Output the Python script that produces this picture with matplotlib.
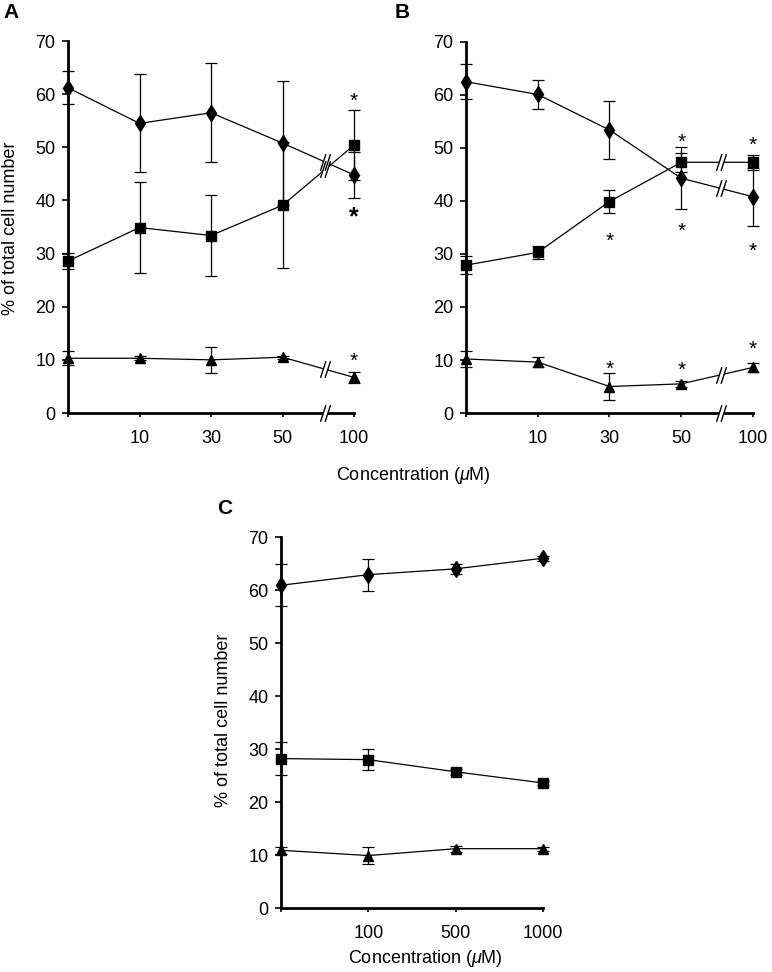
import numpy as np
import matplotlib.pyplot as plt
from matplotlib.path import Path

plt.rcParams['font.family'] = ['Liberation Sans', 'DejaVu Sans']
plt.rcParams['mathtext.fontset'] = 'custom'
plt.rcParams['mathtext.it'] = 'Liberation Sans:italic'

# ---- data ----
ab_labels = ['', '10', '30', '50', '100']
c_labels = ['', '100', '500', '1000']

a_diamond = [61.2, 54.5, 56.5, 50.8, 44.8]
a_diamond_err = [3.1, 9.2, 9.3, 11.6, 4.3]
a_square = [28.6, 34.9, 33.4, 39.1, 50.4]
a_square_err = [1.5, 8.5, 7.6, 11.9, 6.6]
a_triangle = [10.3, 10.3, 10.0, 10.5, 6.7]
a_triangle_err = [1.3, 0.4, 2.4, 0.3, 1.0]
a_stars = [(4, 59.8, False), (4, 38.2, True), (4, 11.0, False)]

b_diamond = [62.5, 60.1, 53.4, 44.3, 40.8]
b_diamond_err = [3.3, 2.7, 5.4, 5.9, 5.5]
b_square = [27.9, 30.3, 39.9, 47.3, 47.3]
b_square_err = [1.7, 1.2, 2.1, 1.8, 1.4]
b_triangle = [10.2, 9.6, 5.0, 5.5, 8.6]
b_triangle_err = [1.5, 0.9, 2.6, 0.5, 0.8]
b_stars = [(2, 33.7, False), (2, 9.4, False),
           (3, 52.3, False), (3, 35.6, False), (3, 9.2, False),
           (4, 51.7, False), (4, 31.7, False), (4, 13.2, False)]

c_diamond = [60.9, 62.9, 64.0, 66.0]
c_diamond_err = [4.0, 3.0, 1.0, 0.5]
c_square = [28.2, 28.0, 25.7, 23.6]
c_square_err = [3.1, 2.0, 0.6, 0.4]
c_triangle = [10.9, 9.9, 11.2, 11.2]
c_triangle_err = [0.7, 1.6, 0.6, 0.4]

FS = 13
XLABEL = r'Concentration ($\mu$M)'
YLABEL = '% of total cell number'

# "//" break mark
slash = Path([(-0.6, -1), (0.05, 1), (-0.05, -1), (0.6, 1)],
             [Path.MOVETO, Path.LINETO, Path.MOVETO, Path.LINETO])
gap = Path([(-0.45, -1), (0.1, -1), (0.45, 1), (-0.1, 1), (-0.45, -1)],
           [Path.MOVETO, Path.LINETO, Path.LINETO, Path.LINETO, Path.CLOSEPOLY])


def break_mark(ax, x, y):
    ax.plot(x, y, marker=gap, ms=12, mfc='white', mec='white', mew=0.5,
            ls='none', clip_on=False, zorder=6)
    ax.plot(x, y, marker=slash, ms=12, mfc='none', mec='black', mew=1.0,
            ls='none', clip_on=False, zorder=7)


def panel(ax, labels, series, stars=(), brk=None):
    x = np.arange(len(labels))
    for vals, errs, mk, ms in series:
        ax.errorbar(x, vals, yerr=errs, fmt='-', marker=mk, ms=ms, color='black',
                    lw=0.9, elinewidth=0.9, capsize=4, capthick=0.9,
                    clip_on=False, zorder=3)
        if brk is not None:
            yb = np.interp(brk, x, vals)
            break_mark(ax, brk, yb)
    if brk is not None:
        break_mark(ax, brk, 0)
    for sx, sy, bold in stars:
        size = 18 if bold else 15
        ax.annotate('*', (sx, sy), xytext=(0, -0.58 * size), textcoords='offset points',
                    ha='center', va='baseline', fontsize=size,
                    fontweight='bold' if bold else 'normal', annotation_clip=False)
    ax.set_xlim(0, len(labels) - 1)
    ax.set_ylim(0, 70)
    ax.set_xticks(x)
    ax.set_xticklabels(labels)
    ax.set_yticks(range(0, 71, 10))
    for s in ['top', 'right']:
        ax.spines[s].set_visible(False)
    for s in ['left', 'bottom']:
        ax.spines[s].set_linewidth(2)
    ax.tick_params(axis='y', length=4, width=1.2, pad=5, labelsize=FS)
    ax.tick_params(axis='x', length=3, width=1.2, pad=9, labelsize=FS)


fig = plt.figure(figsize=(7.72, 9.72), dpi=100)
ax_a = fig.add_axes([0.0881, 0.5751, 0.3705, 0.3827])
ax_b = fig.add_axes([0.6036, 0.5751, 0.3718, 0.3817])
ax_c = fig.add_axes([0.3640, 0.0658, 0.3394, 0.3817])

panel(ax_a, ab_labels,
      [(a_diamond, a_diamond_err, 'd', 8.5),
       (a_square, a_square_err, 's', 6.5),
       (a_triangle, a_triangle_err, '^', 7.5)],
      stars=a_stars, brk=3.6)
panel(ax_b, ab_labels,
      [(b_diamond, b_diamond_err, 'd', 8.5),
       (b_square, b_square_err, 's', 6.5),
       (b_triangle, b_triangle_err, '^', 7.5)],
      stars=b_stars, brk=3.55)
panel(ax_c, c_labels,
      [(c_diamond, c_diamond_err, 'd', 8.5),
       (c_square, c_square_err, 's', 6.5),
       (c_triangle, c_triangle_err, '^', 7.5)])

fig.text(11 / 772, 1 - 228 / 972, YLABEL, fontsize=FS, rotation=90, ha='center', va='center')
fig.text(224 / 772, 1 - 720 / 972, YLABEL, fontsize=FS, rotation=90, ha='center', va='center')
fig.text(413 / 772, 1 - 475 / 972, XLABEL, fontsize=FS, ha='center', va='center')
fig.text(425 / 772, 1 - 958 / 972, XLABEL, fontsize=FS, ha='center', va='center')

fig.text(3 / 772, 1 - 13 / 972, 'A', fontsize=15, fontweight='bold', va='center')
fig.text(395 / 772, 1 - 13 / 972, 'B', fontsize=15, fontweight='bold', va='center')
fig.text(217 / 772, 1 - 508 / 972, 'C', fontsize=15, fontweight='bold', va='center')

fig.savefig('out.png', dpi=100)
